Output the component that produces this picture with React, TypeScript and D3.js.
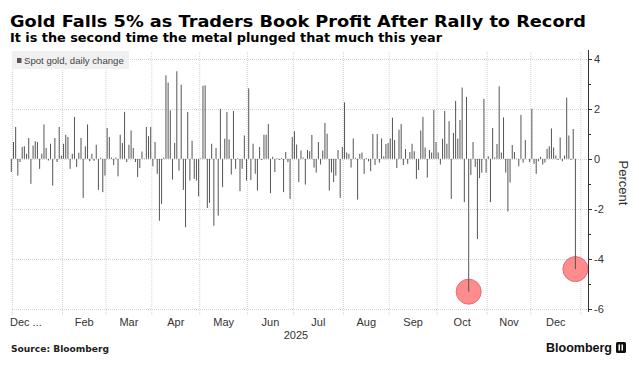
import * as d3 from 'd3';

// spot gold, daily % change, one value per weekday (Dec 31 2024 .. Dec 29 2025)
const dec2024 = [-0.53];
const jan = [0.67, 1.27, -0.67, -0.13, 0.47, 0.5, 0.2, 0.83, -1.0, 0.53, 0.7, 0.67, -0.4, 0.2, 1.37, 0.43, -0.07, 0.6, -1.07, 0.83, -0.13, 1.27, 0.13];
const feb = [0.6, 0.96, 0.87, -0.4, 0.2, 1.67, -0.33, 0.24, 0.83, -1.56, 0.5, 1.37, -0.1, 0.2, -0.08, 0.56, -1.24, 0.04, -1.33, -0.67];
const mar = [1.23, 0.87, 0.05, -0.25, 0.05, -0.7, 0.96, 0.63, 1.87, -0.13, 0.56, 1.13, 0.43, -0.13, -0.73, -0.37, 0.29, 0.02, 1.27, 0.9, 1.27];
const apr = [-0.3, 0.67, -0.6, -2.47, -1.8, 0.05, 3.33, 3.04, 1.93, -0.83, 0.63, 3.49, -0.47, 2.96, -1.24, -2.73, 1.87, -0.87, 0.72, -0.8, -0.87, -1.5];
const may = [0.02, 2.91, 2.93, -1.96, -1.76, 0.6, -2.67, 0.43, -2.27, 1.99, -1.13, 0.8, 1.87, 0.77, -0.63, 1.91, -0.4, 0.03, -1.29, -0.4, 0.93, -0.87];
const jun = [2.81, -0.85, 0.6, -0.6, -1.27, 0.47, -0.05, 0.96, 0.96, 1.39, -1.37, 0.08, -0.53, 0.03, -0.05, 0.03, -1.33, 0.27, -0.13, -1.6, 0.87];
const jul = [1.1, 0.57, -0.93, 0.33, 0.05, -1.03, 0.35, 0.3, 0.95, -0.35, -0.55, 0.67, -0.23, 0.33, 1.43, 1.0, -1.27, -0.55, -0.93, -0.67, 0.35, -1.56, 0.47];
const aug = [2.25, 0.25, 0.2, -0.35, 0.81, 0.04, -1.63, 0.2, 0.25, -0.6, 0.03, -0.1, -0.5, 0.99, -0.25, 0.99, -0.15, 0.81, 0.1, 0.59, 0.63];
const sep = [0.81, 1.64, 0.75, -0.37, 1.16, 1.39, -0.25, 0.39, -0.2, 0.27, 0.6, 0.3, -0.8, -0.45, 1.13, 1.67, 0.45, -0.75, 0.35, 0.25, 1.95, 0.67];
const oct = [0.25, -0.23, 0.8, 1.91, 0.6, 1.5, -1.6, 1.03, 2.31, 0.8, 1.55, 2.84, -1.73, 2.47, -5.3, -0.65, 0.67, -0.33, -3.2, -0.77, -0.55, 2.39, -0.55];
const nov = [0.1, -1.73, 1.23, 0.05, 0.59, 2.89, 0.25, 1.65, -0.55, -2.1, -0.95, 0.55, 0.27, 0.02, -0.3, 1.75, -0.15, 0.75, 0.0, -0.13];
const dec = [1.99, -0.2, -0.6, -0.1, 0.08, -0.23, -0.15, 0.4, 0.5, 1.21, 0.45, 0.13, -0.05, 0.85, -0.1, 0.13, 2.44, 0.93, -0.05, 1.19, -4.4];

const monthLabels = ['Feb', 'Mar', 'Apr', 'May', 'Jun', 'Jul', 'Aug', 'Sep', 'Oct', 'Nov', 'Dec'];
const yTicks = [4, 2, 0, -2, -4, -6];
const highlightDays = ['2025-10-21', '2025-12-29'];

const W = 639;
const H = 368;

export default function App() {
  const values = [dec2024, jan, feb, mar, apr, may, jun, jul, aug, sep, oct, nov, dec].flat();
  // weekday calendar the bars sit on (through Jan 1 2026 so the last month closes)
  const days = d3.timeDay
    .range(new Date(2024, 11, 31), new Date(2026, 0, 2))
    .filter((d) => d.getDay() % 6 !== 0);
  const fmt = d3.timeFormat('%Y-%m-%d');

  const x = d3.scaleLinear().domain([0, values.length - 1]).range([11.3, 575.4]);
  const y = d3.scaleLinear().domain([-6, 4]).range([309.2, 58.5]);

  // month boundaries (first weekday of each month)
  const bounds: number[] = [];
  days.forEach((d, i) => {
    if (i > 0 && d.getMonth() !== days[i - 1].getMonth()) bounds.push(x(i - 0.5));
  });

  const plotLeft = 12;
  const plotRight = 588;
  const gridTop = 52;
  const gridBottom = 316;
  const axisFont = "'Liberation Sans', Arial, sans-serif";

  const hl = highlightDays.map((s) => days.findIndex((d) => fmt(d) === s));

  return (
    <svg width={W} height={H} style={{ position: 'absolute', left: 0, top: 0, background: '#fff' }}>
      {/* titles */}
      <text x={10} y={27} fontFamily="'DejaVu Sans', sans-serif" fontWeight="bold" fontSize={16.5} fill="#000" textLength={576} lengthAdjust="spacingAndGlyphs">
        Gold Falls 5% as Traders Book Profit After Rally to Record
      </text>
      <text x={10} y={42} fontFamily="'DejaVu Sans', sans-serif" fontWeight="bold" fontSize={12.5} fill="#000" textLength={432} lengthAdjust="spacingAndGlyphs">
        It is the second time the metal plunged that much this year
      </text>

      {/* grid */}
      <g stroke="#d4d4d4" strokeWidth={1} strokeDasharray="1,1">
        {bounds.map((b, i) => (
          <line key={'v' + i} x1={b} x2={b} y1={gridTop} y2={gridBottom} />
        ))}
        {yTicks.map((t) => (
          <line key={'h' + t} x1={plotLeft} x2={plotRight} y1={Math.round(y(t)) + 0.5} y2={Math.round(y(t)) + 0.5} />
        ))}
      </g>

      {/* legend */}
      <rect x={12} y={51} width={117} height={18} fill="#f0f0f0" />
      <rect x={17} y={58} width={4.5} height={5} fill="#555" />
      <text x={24} y={64} fontFamily={axisFont} fontSize={9.6} fill="#444">
        Spot gold, daily change
      </text>

      {/* highlight circles */}
      {hl.map((i, k) => (
        <circle key={'c' + k} cx={x(i)} cy={y(values[i])} r={12.5} fill="#ff8080" fillOpacity={0.9} stroke="#f06878" strokeWidth={1} />
      ))}

      {/* bars */}
      <g fill="#555">
        {values.map((v, i) => (
          <rect key={i} x={x(i) - 0.5} width={1} y={y(Math.max(0, v))} height={Math.abs(y(v) - y(0))} />
        ))}
      </g>

      {/* right axis */}
      <line x1={plotRight + 0.5} x2={plotRight + 0.5} y1={50} y2={312} stroke="#333" />
      {d3.range(-6, 5).map((t) => (
        <line key={'t' + t} x1={plotRight} x2={plotRight + (t % 2 === 0 ? 4 : 3)} y1={Math.round(y(t)) + 0.5} y2={Math.round(y(t)) + 0.5} stroke="#333" />
      ))}
      {yTicks.map((t) => (
        <text key={'yl' + t} x={594} y={y(t) + 4} fontFamily={axisFont} fontSize={11} fill="#333">
          {t}
        </text>
      ))}
      <text transform="translate(619,183) rotate(90)" textAnchor="middle" fontFamily={axisFont} fontSize={13} fill="#333">
        Percent
      </text>

      {/* x labels */}
      <text x={10} y={326} fontFamily={axisFont} fontSize={11} fill="#333">
        Dec ...
      </text>
      {monthLabels.map((m, k) => (
        <text key={m} x={(bounds[k + 1] + bounds[k + 2]) / 2} y={326} textAnchor="middle" fontFamily={axisFont} fontSize={11} fill="#333">
          {m}
        </text>
      ))}
      <text x={296} y={339} textAnchor="middle" fontFamily={axisFont} fontSize={11} fill="#333">
        2025
      </text>

      {/* footer */}
      <text x={11} y={352} fontFamily="'DejaVu Sans', sans-serif" fontWeight="bold" fontSize={9} fill="#222" textLength={98} lengthAdjust="spacingAndGlyphs">
        Source: Bloomberg
      </text>
      <text x={612} y={352} textAnchor="end" fontFamily={axisFont} fontWeight="bold" fontSize={12.5} fill="#111">
        Bloomberg
      </text>
      <rect x={616} y={342} width={10} height={11} rx={1.5} fill="#111" />
      <rect x={618.5} y={344.5} width={1.5} height={6} fill="#fff" />
      <rect x={621.5} y={344.5} width={1.5} height={6} fill="#fff" />
    </svg>
  );
}
